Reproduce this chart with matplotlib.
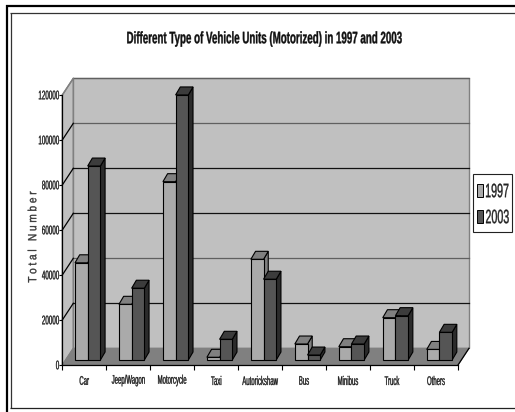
import matplotlib
matplotlib.use('Agg')
import matplotlib.pyplot as plt
from matplotlib.patches import Polygon, Rectangle
from matplotlib.path import Path
from matplotlib.text import Text
from matplotlib.textpath import TextPath
from matplotlib.transforms import Affine2D, Bbox

# Vehicle units by type
categories = ['Car', 'Jeep/Wagon', 'Motorcycle', 'Taxi', 'Autorickshaw', 'Bus', 'Minibus', 'Truck', 'Others']
units_1997 = [43200, 24750, 79250, 1200, 44750, 7100, 5900, 18800, 4700]
units_2003 = [86200, 31900, 117800, 9200, 35900, 2200, 7100, 19700, 12300]
y_ticks = [0, 20000, 40000, 60000, 80000, 100000, 120000]

W, H = 515, 412
plt.rcParams['font.family'] = ['Liberation Sans']


class CondensedText(Text):
    # Text squeezed along its baseline, no narrow face is installed
    def __init__(self, *args, squeeze=0.5, **kwargs):
        super().__init__(*args, **kwargs)
        self.squeeze = squeeze

    def _outline(self):
        dpi = self.get_figure().dpi
        path = TextPath((0, 0), self.get_text(), size=self.get_fontsize(), prop=self.get_fontproperties())
        box = path.get_extents()
        ha = {'left': box.x0, 'center': (box.x0 + box.x1) / 2, 'right': box.x1}[self.get_ha()]
        va = {'bottom': box.y0, 'center': (box.y0 + box.y1) / 2, 'top': box.y1}[self.get_va()]
        x, y = self.get_transform().transform(self.get_unitless_position())
        tr = (Affine2D().translate(-ha, -va).scale(self.squeeze * dpi / 72, dpi / 72)
              .rotate_deg(self.get_rotation()).translate(x, y))
        return Path(tr.transform(path.vertices), path.codes)

    def draw(self, renderer):
        gc = renderer.new_gc()
        gc.set_foreground(self.get_color())
        gc.set_linewidth(0.25)
        renderer.draw_path(gc, self._outline(), Affine2D(), matplotlib.colors.to_rgba(self.get_color()))
        gc.restore()

    def get_window_extent(self, renderer=None, dpi=None):
        box = self._outline().get_extents()
        return Bbox.from_extents(box.x0, box.y0, box.x1, box.y1)


fig = plt.figure(figsize=(W / 100, H / 100), dpi=100, facecolor='white')


def fig_x(px):
    return px / W


def fig_y(px):
    return 1 - px / H


def add_label(x, y, s, transform, **kw):
    fig.add_artist(CondensedText(x, y, s, transform=transform, **kw))


# front plane of the 3d box: x 62..458 px, y 365..95 px
ax = fig.add_axes([fig_x(62.3), fig_y(365), 395.7 / W, 270 / H])
ax.set_xlim(0, 9)
ax.set_ylim(0, 120000)
ax.patch.set_visible(False)
for s in ['top', 'right']:
    ax.spines[s].set_visible(False)
for s in ['left', 'bottom']:
    ax.spines[s].set_linewidth(0.9)
    ax.spines[s].set_color('black')
    ax.spines[s].set_zorder(1.8)

px_x = 9 / 395.7
px_y = 120000 / 270
wall_dx = 11 * px_x
wall_dy = 16.7 * px_y


def poly(pts, fc, ec='black', lw=0.8, z=2):
    ax.add_patch(Polygon(pts, closed=True, fc=fc, ec=ec, lw=lw, zorder=z, clip_on=False))


# walls and floor
poly([(0, 0), (wall_dx, wall_dy), (wall_dx, 120000 + wall_dy), (0, 120000)], '#c0c0c0', '#808080', 1.0, 1)
poly([(wall_dx, wall_dy), (9 + wall_dx, wall_dy), (9 + wall_dx, 120000 + wall_dy), (wall_dx, 120000 + wall_dy)],
     '#c0c0c0', '#808080', 1.0, 1)
poly([(0, 0), (9, 0), (9 + wall_dx, wall_dy), (wall_dx, wall_dy)], '#808080', '#808080', 0.8, 1.2)
ax.plot([9, 9 + wall_dx], [0, wall_dy], color='black', lw=0.9, zorder=1.5, clip_on=False)

# gridlines on the back and side walls
for t in y_ticks[1:]:
    grid_col = '#606060' if t in (40000, 100000, 120000) else '#111111'
    ax.plot([wall_dx, 9 + wall_dx], [t + wall_dy] * 2, color=grid_col, lw=0.9, zorder=1.5, clip_on=False)
    if t < 120000:
        ax.plot([0, wall_dx], [t, t + wall_dy], color='black', lw=0.9, zorder=1.5, clip_on=False)
ax.plot([0, wall_dx], [120000, 120000 + wall_dy], color='#808080', lw=1.0, zorder=1.5, clip_on=False)

# bars sit on the floor, a little behind the front edge and right of the category centre
base = 5 * px_y
shift = 3.4 * px_x
bar_w = 12.7 * px_x
bar_dx = 4.7 * px_x
bar_dy = 8 * px_y
side_col = {'1997': '#808080', '2003': '#2b2b2b'}
top_col = {'1997': '#808080', '2003': '#3c3c3c'}
front_col = {'1997': '#aaaaaa', '2003': '#555555'}


def bar3d(x, v, key, z):
    y = base + v
    poly([(x + bar_w, base), (x + bar_w + bar_dx, base + bar_dy), (x + bar_w + bar_dx, y + bar_dy), (x + bar_w, y)],
         side_col[key], z=z)
    poly([(x, y), (x + bar_dx, y + bar_dy), (x + bar_w + bar_dx, y + bar_dy), (x + bar_w, y)], top_col[key], z=z)
    ax.add_patch(Rectangle((x, base), bar_w, v, fc=front_col[key], ec='black', lw=0.8, zorder=z + 0.1, clip_on=False))


for i in range(len(categories)):
    x1 = i + 0.5 - bar_w + shift
    bar3d(x1, units_1997[i], '1997', 2 + i * 0.01)
    bar3d(x1 + bar_w, units_2003[i], '2003', 2.5 + i * 0.01)

ax.set_yticks(y_ticks)
ax.set_yticklabels([])
ax.set_xticks(range(10))
ax.set_xticklabels([])
ax.tick_params(axis='x', length=3.5, width=0.8, direction='out')
ax.tick_params(axis='y', length=2, width=0.8)

# tick labels in the squeezed face
for t in y_ticks:
    add_label(-3.3 / 395.7, t, str(t), ax.get_yaxis_transform(), fontsize=9, squeeze=0.5,
              ha='right', va='center', color='#222222')
for i, c in enumerate(categories):
    add_label(i + 0.5, -15.5 / 270, c, ax.get_xaxis_transform(), fontsize=9, squeeze=0.48,
              ha='center', va='center', color='#222222')

add_label(fig_x(32), fig_y(237), 'T o t a l   N u m b e r', fig.transFigure, rotation=90, fontsize=8.5, squeeze=0.85,
          ha='center', va='center', color='#333333')
add_label(fig_x(264.5), fig_y(39), 'Different Type of Vehicle Units (Motorized) in 1997 and 2003', fig.transFigure,
          fontsize=12, fontweight='bold', squeeze=0.585, ha='center', va='center', color='#111111')


# page border: heavy line outside, thin line inside, both run off the right edge
def edge(xs, ys, lw, col):
    fig.add_artist(plt.Line2D([fig_x(v) for v in xs], [fig_y(v) for v in ys], color=col, lw=lw,
                              solid_capstyle='butt'))


edge([7, 7], [5, 412], 1.6, 'black')
edge([6, 515], [6, 6], 1.6, 'black')
edge([10.5, 10.5], [12.5, 408], 0.9, '#333333')
edge([10, 515], [13, 13], 0.9, '#333333')
edge([10, 515], [407.5, 407.5], 0.9, '#222222')

# legend
fig.add_artist(Rectangle((fig_x(472.5), fig_y(232)), 39.5 / W, 58.5 / H, transform=fig.transFigure,
                         fc='white', ec='#222222', lw=0.8))
for key, yc in [('1997', 190.5), ('2003', 216.5)]:
    fig.add_artist(Rectangle((fig_x(477), fig_y(yc + 6.5)), 6 / W, 13 / H, transform=fig.transFigure,
                             fc=front_col[key], ec='black', lw=0.7))
    add_label(fig_x(486), fig_y(yc), key, fig.transFigure, fontsize=14, squeeze=0.55,
              ha='left', va='center', color='#222222')

fig.savefig('out.png', dpi=100, facecolor='white')
